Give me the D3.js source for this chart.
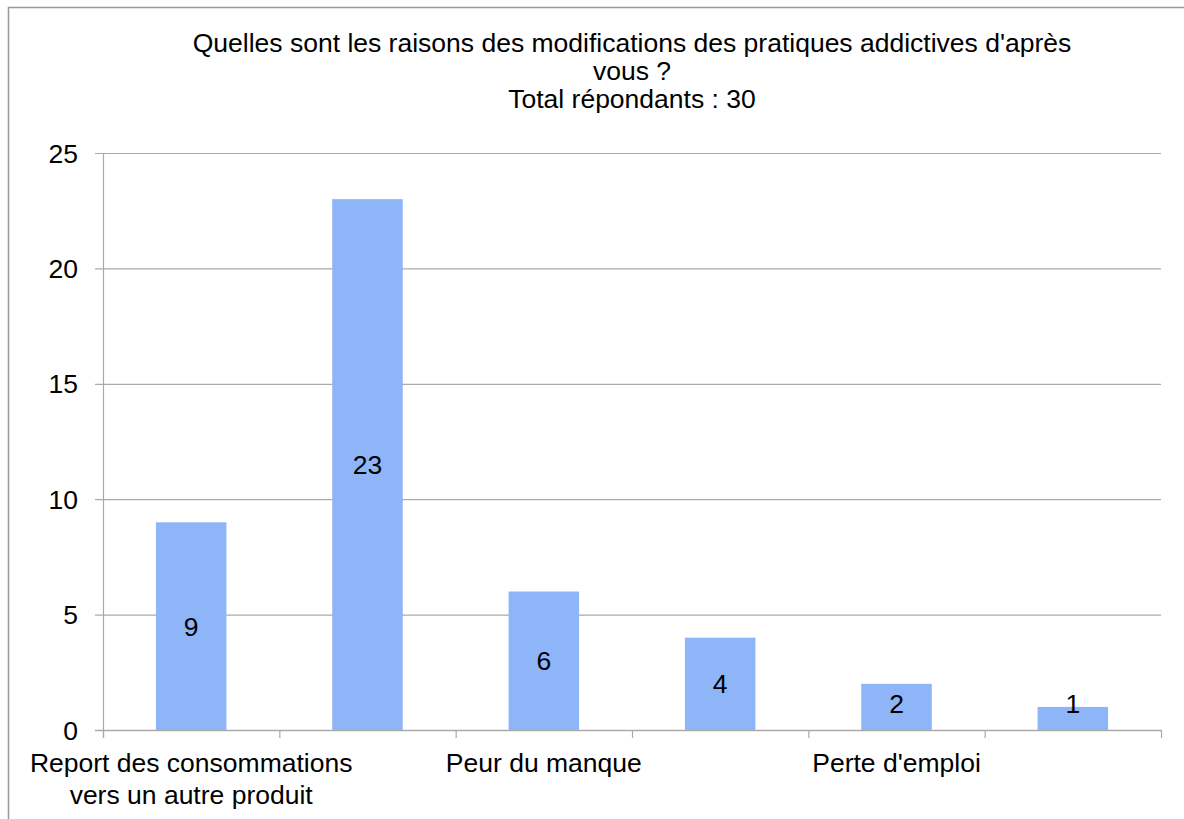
<!DOCTYPE html>
<html><head><meta charset="utf-8">
<script src="https://cdn.jsdelivr.net/npm/d3@7"></script>
<style>
html,body{margin:0;padding:0;background:#fff;}
text{font-family:"Liberation Sans",Arial,sans-serif;fill:#000;}
</style></head>
<body><svg id="c" width="1184" height="819"></svg>
<script>
const titleLines = ["Quelles sont les raisons des modifications des pratiques addictives d'après", "vous ?", "Total répondants : 30"];
const categories = [["Report des consommations","vers un autre produit"], ["Ennui / isolement"], ["Peur du manque"], ["Stress / anxiété"], ["Perte d'emploi"], ["Autre"]];
const values = [9, 23, 6, 4, 2, 1];
const yTicks = [0, 5, 10, 15, 20, 25];

(function(){
const svg = d3.select("#c");
const fs = 26.5;
// frame
svg.append("path").attr("d","M8.5,830V7.5H1200").attr("fill","none").attr("stroke","#999").attr("stroke-width",1.5);

const pl = 103, pr = 1161, pt = 153, pb = 730;
const x = d3.scaleBand().domain(d3.range(values.length)).range([pl,pr]).paddingInner(0.6).paddingOuter(0.3);
const xb = d3.scaleBand().domain(d3.range(values.length)).range([pl,pr]);
const y = d3.scaleLinear().domain([0,25]).range([pb,pt]);

// title
svg.append("g").selectAll("text").data(titleLines).join("text")
  .attr("x",632).attr("y",(d,i)=>52+i*28).attr("text-anchor","middle").attr("font-size",fs).text(d=>d);

// gridlines
svg.append("g").selectAll("line").data(yTicks).join("line")
  .attr("x1",95).attr("x2",pr).attr("y1",d=>y(d)+0.5).attr("y2",d=>y(d)+0.5)
  .attr("stroke","#aaa").attr("stroke-width",1.2);
svg.append("g").selectAll("text").data(yTicks).join("text")
  .attr("x",78).attr("y",d=>y(d)).attr("dy","0.36em").attr("text-anchor","end").attr("font-size",fs).text(d=>d);

// bars
svg.append("g").selectAll("rect").data(values).join("rect")
  .attr("x",(d,i)=>x(i)).attr("width",x.bandwidth())
  .attr("y",d=>y(d)).attr("height",d=>pb-y(d)).attr("fill","#8fb5f9");

// axes lines
svg.append("line").attr("x1",pl+0.5).attr("x2",pl+0.5).attr("y1",pt).attr("y2",pb+8).attr("stroke","#aaa").attr("stroke-width",1.2);
svg.append("line").attr("x1",95).attr("x2",pr).attr("y1",pb+0.5).attr("y2",pb+0.5).attr("stroke","#aaa").attr("stroke-width",1.5);
const xt = d3.range(values.length+1).map(i=> i<values.length ? xb(i) : pr);
svg.append("g").selectAll("line").data(xt).join("line")
  .attr("x1",d=>d+0.5).attr("x2",d=>d+0.5).attr("y1",pb).attr("y2",pb+8).attr("stroke","#aaa").attr("stroke-width",1.2);

// value labels
svg.append("g").selectAll("text").data(values).join("text")
  .attr("x",(d,i)=>x(i)+x.bandwidth()/2)
  .attr("y",d=>Math.min(y(d/2), pb-27)).attr("dy","0.36em")
  .attr("text-anchor","middle").attr("font-size",fs).text(d=>d);

// category labels (every other shown)
const cg = svg.append("g");
categories.forEach((lines,i)=>{
  if(i%2!==0) return;
  lines.forEach((t,j)=>{
    cg.append("text").attr("x",xb(i)+xb.bandwidth()/2).attr("y",772+j*32)
      .attr("text-anchor","middle").attr("font-size",fs).text(t);
  });
});
})();
</script></body></html>
